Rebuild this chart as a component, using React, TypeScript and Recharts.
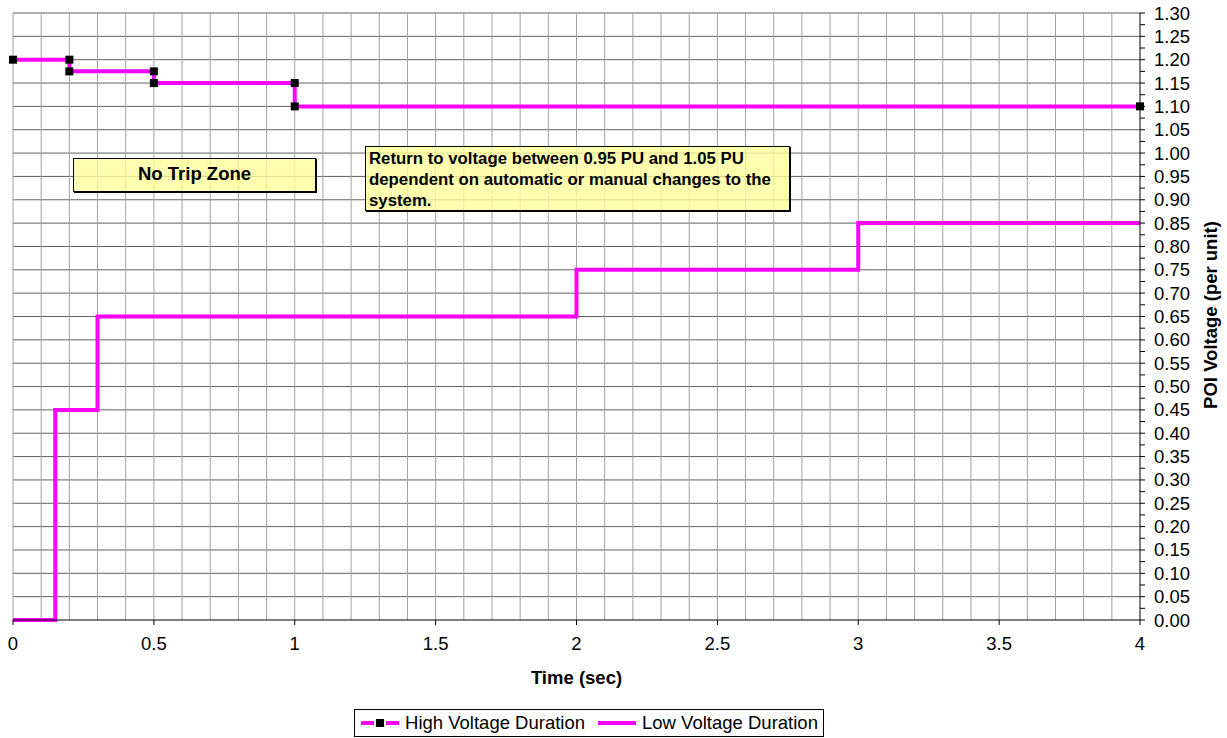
import React from 'react';
import {
  LineChart,
  Line,
  XAxis,
  YAxis,
  ReferenceLine,
} from 'recharts';

// step curves
const HV_TIME = [0, 0.2, 0.2, 0.5, 0.5, 1, 1, 4];
const HV_VOLT = [1.2, 1.2, 1.175, 1.175, 1.15, 1.15, 1.1, 1.1];
const LV_TIME = [0, 0.15, 0.15, 0.3, 0.3, 2, 2, 3, 3, 4];
const LV_VOLT = [0, 0, 0.45, 0.45, 0.65, 0.65, 0.75, 0.75, 0.85, 0.85];

const X_TICKS = [0, 0.5, 1, 1.5, 2, 2.5, 3, 3.5, 4];
const X_GRID = [
  0, 0.1, 0.2, 0.3, 0.4, 0.5, 0.6, 0.7, 0.8, 0.9, 1, 1.1, 1.2, 1.3, 1.4, 1.5,
  1.6, 1.7, 1.8, 1.9, 2, 2.1, 2.2, 2.3, 2.4, 2.5, 2.6, 2.7, 2.8, 2.9, 3, 3.1,
  3.2, 3.3, 3.4, 3.5, 3.6, 3.7, 3.8, 3.9,
];
// major ticks every 0.05, minor halfway
const Y_MAJOR = Array.from({ length: 27 }, (_, i) => Math.round(i * 5) / 100);
const Y_TICKS = Array.from({ length: 53 }, (_, i) => Math.round(i * 25) / 1000);

const SERIES_NAMES = ['High Voltage Duration', 'Low Voltage Duration'];
const NOTE_LINES = [
  'Return to voltage between 0.95 PU and 1.05 PU',
  'dependent on automatic or manual changes to the',
  'system.',
];

const MAGENTA = '#FF00FF';
const FONT = '"Liberation Sans", Arial, sans-serif';
const FS = 18.5;

const hvData = HV_TIME.map((t, i) => ({ t, v: HV_VOLT[i] }));
const lvData = LV_TIME.map((t, i) => ({ t, v: LV_VOLT[i] }));

function SquareDot(props: any) {
  const { cx, cy } = props;
  if (cx == null || cy == null) return null;
  return <rect x={cx - 4} y={cy - 4} width={8} height={8} fill="#000" />;
}

function YTick(props: any) {
  const { x, y, payload } = props;
  const v = Number(payload.value);
  const isMajor = Math.abs(Math.round(v * 1000) % 50) < 1;
  if (!isMajor) return <g />;
  return (
    <text x={x + 7} y={y + 6.5} fontSize={FS} fill="#000" fontFamily={FONT} textAnchor="start">
      {v.toFixed(2)}
    </text>
  );
}

const boxStyle: React.CSSProperties = {
  position: 'absolute',
  background: 'rgba(255,255,153,0.78)',
  border: '1px solid #000',
  boxShadow: '1px 1px 0 #000',
  fontFamily: FONT,
  fontWeight: 'bold',
  color: '#000',
  boxSizing: 'border-box',
  whiteSpace: 'nowrap',
};

export default function App() {
  return (
    <div
      style={{
        position: 'absolute',
        left: 0,
        top: 0,
        width: 1227,
        height: 738,
        background: '#fff',
        fontFamily: FONT,
      }}
    >
      <LineChart
        width={1227}
        height={738}
        margin={{ top: 13, right: 0, bottom: 0, left: 13 }}
      >
        <XAxis
          dataKey="t"
          type="number"
          domain={[0, 4]}
          ticks={X_TICKS}
          allowDuplicatedCategory={false}
          height={118}
          tickSize={5}
          tickMargin={12}
          tick={{ fontSize: FS, fill: '#000', fontFamily: FONT }}
          stroke="#000"
          label={(p: any) => {
            const vb = p.viewBox;
            return (
              <text
                x={vb.x + vb.width / 2}
                y={684}
                textAnchor="middle"
                fontSize={FS}
                fontWeight="bold"
                fontFamily={FONT}
                fill="#000"
              >
                Time (sec)
              </text>
            );
          }}
        />
        <YAxis
          dataKey="v"
          orientation="right"
          type="number"
          domain={[0, 1.3]}
          ticks={Y_TICKS}
          interval={0}
          width={87}
          tickSize={5}
          tick={<YTick />}
          stroke="#000"
          label={() => (
            <text
              x={1212}
              y={315}
              transform="rotate(-90 1212 315)"
              textAnchor="middle"
              dominantBaseline="middle"
              fontSize={FS}
              fontWeight="bold"
              fontFamily={FONT}
              fill="#000"
            >
              POI Voltage (per unit)
            </text>
          )}
        />
        {Y_MAJOR.filter((v) => v > 0).map((v) => (
          <ReferenceLine key={'h' + v} y={v} stroke="#606060" strokeWidth={1} />
        ))}
        {X_GRID.map((v) => (
          <ReferenceLine key={'v' + v} x={v} stroke="#a0a0a0" strokeWidth={1} />
        ))}
        <Line
          data={lvData}
          dataKey="v"
          name={SERIES_NAMES[1]}
          type="linear"
          stroke={MAGENTA}
          strokeWidth={4}
          dot={false}
          isAnimationActive={false}
        />
        <Line
          data={hvData}
          dataKey="v"
          name={SERIES_NAMES[0]}
          type="linear"
          stroke={MAGENTA}
          strokeWidth={4}
          dot={<SquareDot />}
          isAnimationActive={false}
        />
      </LineChart>

      <div
        style={{
          ...boxStyle,
          left: 73,
          top: 158,
          width: 243,
          height: 34,
          fontSize: 18.5,
          textAlign: 'center',
          lineHeight: '30px',
        }}
      >
        No Trip Zone
      </div>
      <div
        style={{
          ...boxStyle,
          left: 365,
          top: 146,
          width: 425,
          height: 65,
          fontSize: 16.8,
          lineHeight: '21px',
          padding: '1px 3px',
        }}
      >
        {NOTE_LINES.map((l) => (
          <div key={l}>{l}</div>
        ))}
      </div>

      <div
        style={{
          position: 'absolute',
          left: 354,
          top: 709,
          width: 470,
          height: 28,
          border: '1px solid #000',
          boxSizing: 'border-box',
          display: 'flex',
          alignItems: 'center',
          justifyContent: 'center',
          fontSize: FS,
          color: '#000',
        }}
      >
        <svg width={40} height={12} style={{ marginRight: 5 }}>
          <line x1={1} y1={6} x2={14} y2={6} stroke={MAGENTA} strokeWidth={4} />
          <rect x={16} y={2} width={8} height={8} fill="#000" />
          <line x1={26} y1={6} x2={39} y2={6} stroke={MAGENTA} strokeWidth={4} />
        </svg>
        <span style={{ marginRight: 12 }}>{SERIES_NAMES[0]}</span>
        <svg width={40} height={12} style={{ marginRight: 5 }}>
          <line x1={1} y1={6} x2={39} y2={6} stroke={MAGENTA} strokeWidth={4} />
        </svg>
        <span>{SERIES_NAMES[1]}</span>
      </div>
    </div>
  );
}
